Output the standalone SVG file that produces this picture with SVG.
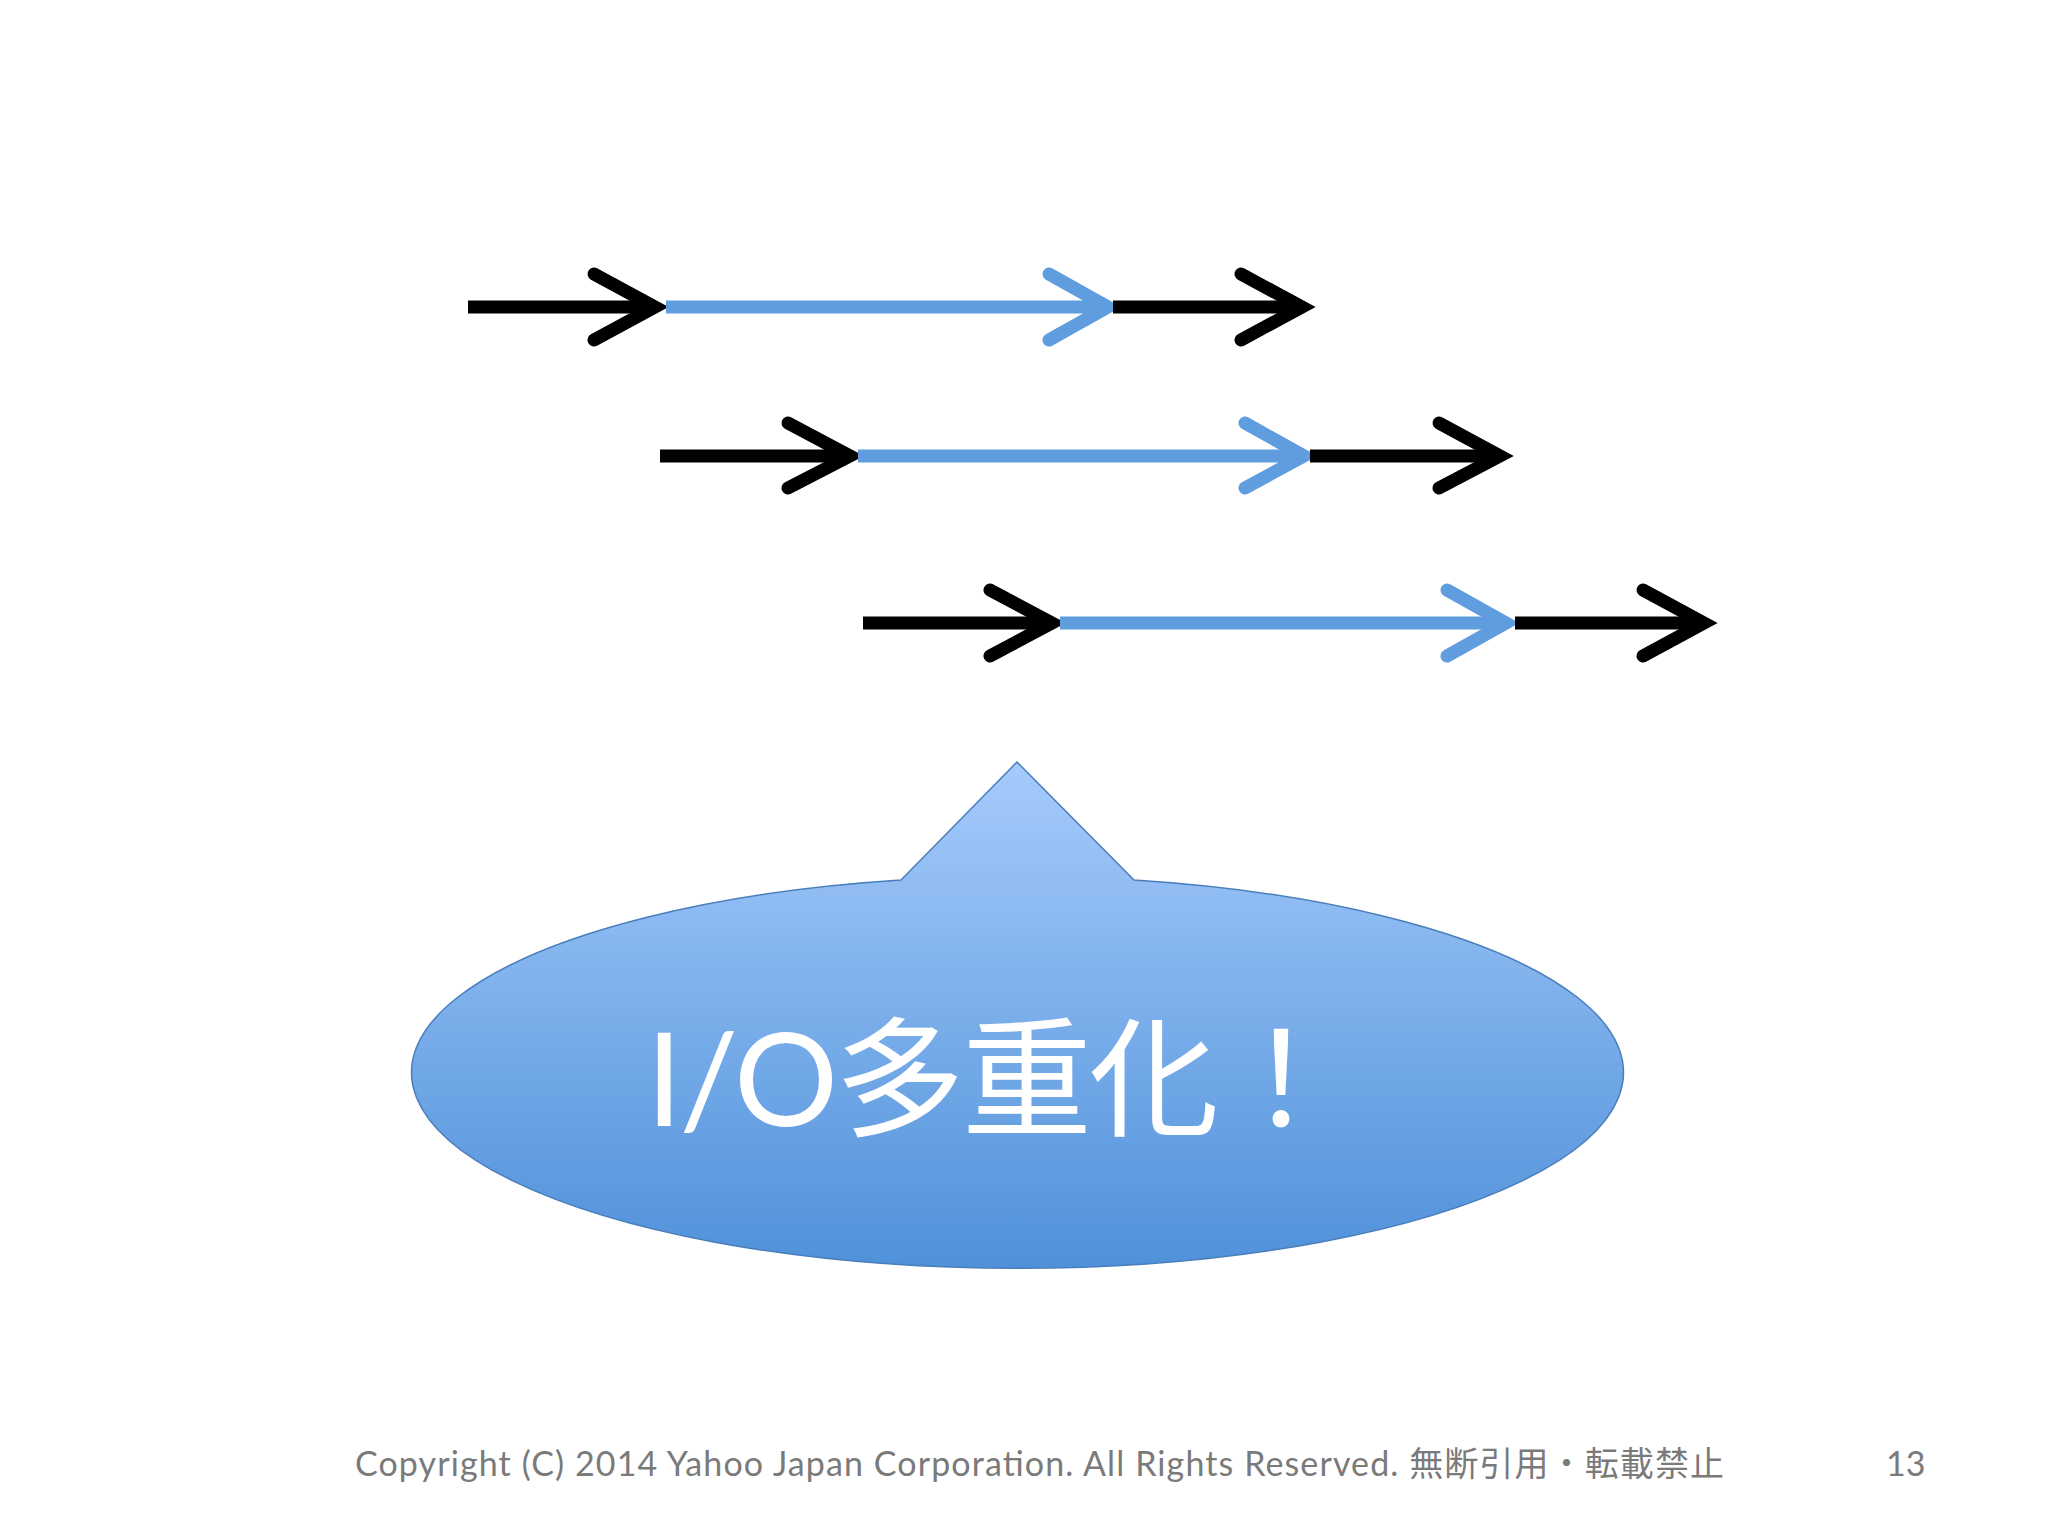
<svg xmlns="http://www.w3.org/2000/svg" width="2048" height="1536" viewBox="0 0 2048 1536">
<style>
.k{stroke:#000;stroke-width:13;fill:none;stroke-linecap:round}
.b{stroke:#5f9ddf;stroke-width:13;fill:none;stroke-linecap:round}
.l{stroke-linecap:butt}
.ft{font-family:"Lato","Noto Sans CJK JP",sans-serif;font-size:34px;fill:#7a7a7a}
</style>
<defs>
<linearGradient id="g" x1="0" y1="0" x2="0" y2="1">
<stop offset="0" stop-color="#a6cbfc"/><stop offset="1" stop-color="#4f91d9"/>
</linearGradient>
</defs>
<rect width="2048" height="1536" fill="#fff"/>
<g id="connectors">
<line class="k l" x1="468" y1="307" x2="655" y2="307"/><polyline class="k" points="594,274 655,307 594,340"/>
<line class="b l" x1="666" y1="307" x2="1105" y2="307"/><polyline class="b" points="1049,274 1108,307 1049,340"/>
<line class="k l" x1="1113" y1="307" x2="1300" y2="307"/><polyline class="k" points="1241,274 1302,307 1241,340"/>
<line class="k l" x1="660" y1="456" x2="848" y2="456"/><polyline class="k" points="788,423 850,456 788,488"/>
<line class="b l" x1="858" y1="456" x2="1300" y2="456"/><polyline class="b" points="1245,423 1304,456 1245,488"/>
<line class="k l" x1="1310" y1="456" x2="1498" y2="456"/><polyline class="k" points="1439,423 1500,456 1439,488"/>
<line class="k l" x1="863" y1="623" x2="1050" y2="623"/><polyline class="k" points="990,590 1052,623 990,656"/>
<line class="b l" x1="1060" y1="623" x2="1502" y2="623"/><polyline class="b" points="1447,590 1506,623 1447,656"/>
<line class="k l" x1="1515" y1="623" x2="1702" y2="623"/><polyline class="k" points="1643,590 1704,623 1643,656"/>
</g>
<g id="callout">
<path d="M901,880 L1017,762 L1134,880 A606,196 0 1 1 901,880 Z" fill="url(#g)" stroke="#4a7ebb" stroke-width="1.5"/>
<text x="646" y="1126" font-family="Lato,'Noto Sans CJK JP',sans-serif" font-size="130" fill="#fff" textLength="700">I/O多重化！</text>
</g>
<g id="footer">
<text class="ft" x="355" y="1476" textLength="1369">Copyright (C) 2014 Yahoo Japan Corporation. All Rights Reserved. 無断引用・転載禁止</text>
<text class="ft" x="1886" y="1476">13</text>
</g>
</svg>
